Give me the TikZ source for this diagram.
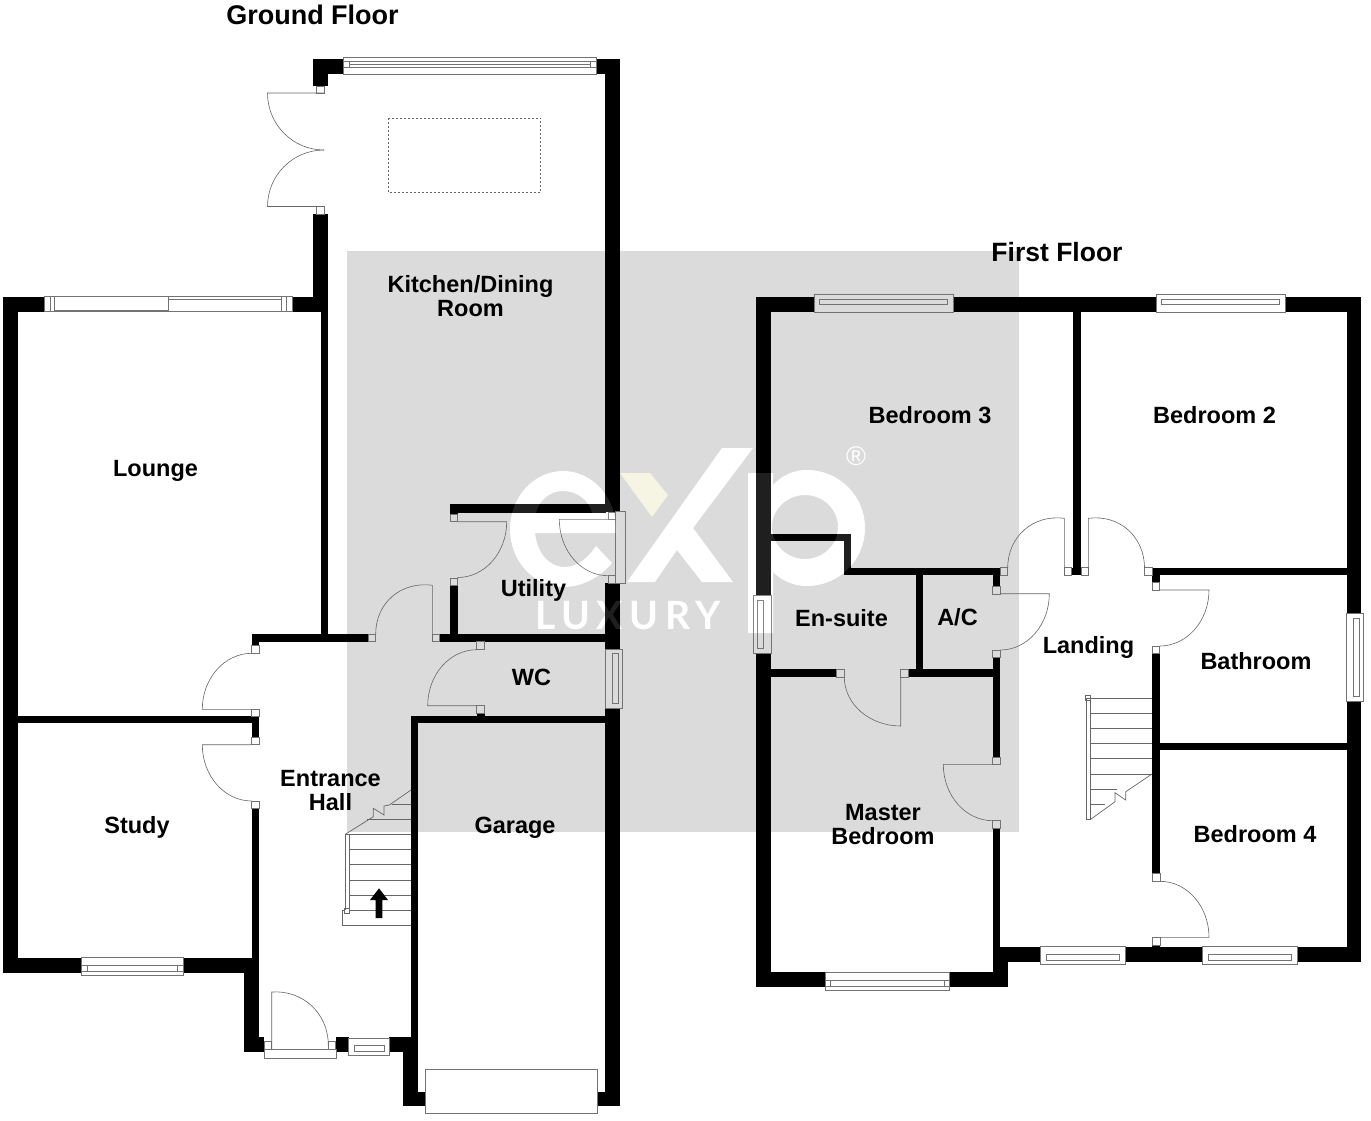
\documentclass[tikz,border=0pt]{standalone}
\usepackage{fontspec}
\setmainfont{Liberation Sans}
\newfontfamily\logofont[LetterSpace=17]{Lato}
\usetikzlibrary{calc}
\tikzset{
  wallfill/.style={fill=black,draw=none},
  jambline/.style={draw=black!55,line width=0.6pt},
  doorline/.style={draw=black!60,line width=0.6pt},
  winline/.style={draw=black!55,line width=0.65pt},
  stairline/.style={draw=black!60,line width=0.7pt},
  lab/.style={font=\fontsize{23.5}{24}\bfseries\selectfont,align=center,inner sep=0pt,text=black},
  ttl/.style={font=\fontsize{27}{30}\bfseries\selectfont,inner sep=0pt,text=black},
  logotext/.style={inner sep=0pt,text=white}
}
\newcommand\wall[2]{\path[wallfill] (#1) rectangle (#2);}
\newcommand\jamb[2]{\draw[jambline] (#1) rectangle (#2);}
\newcommand\door[3]{\draw[doorline] (#1) -- (#2) .. controls ($(#2)+0.5523*(#3)-0.5523*(#1)$) and ($(#3)+0.5523*(#2)-0.5523*(#1)$) .. (#3);}
\newcommand\win[4]{\draw[winline] (#1) rectangle (#2); \draw[winline] (#3) rectangle (#4);}
\newcommand\logoshape{
  (616,529) .. controls (616,497) and (592,471) .. (563,471)
  .. controls (534,471) and (510,497) .. (510,529)
  .. controls (510,561) and (534,587) .. (563,587)
  .. controls (583,587) and (600,577) .. (612,563)
  -- (596,546) .. controls (588,558) and (577,567) .. (565,567)
  .. controls (548,567) and (537,552) .. (535,533) -- (616,533) -- cycle
  (536,513) .. controls (539,500) and (550,491) .. (563,491)
  .. controls (577,491) and (589,500) .. (592,513) -- cycle
  (722,448) -- (753,448) -- (693,528) -- (733,582) -- (702,582) -- (677,550) -- (655,582) -- (627,582) -- cycle
  (748,473) -- (773,473) -- (773,485) .. controls (782,475) and (794,470) .. (807,470)
  .. controls (839,470) and (865,496) .. (865,528)
  .. controls (865,560) and (839,586) .. (807,586)
  .. controls (794,586) and (782,581) .. (773,572) -- (773,633) -- (748,633) -- cycle
  (805,495) .. controls (787,495) and (772,509) .. (772,527)
  .. controls (772,545) and (787,559) .. (805,559)
  .. controls (823,559) and (838,545) .. (838,527)
  .. controls (838,509) and (823,495) .. (805,495) -- cycle
}
\begin{document}
\begin{tikzpicture}[x=1pt,y=-1pt]
\useasboundingbox (0,0) rectangle (1371,1120);
\fill[white] (0,0) rectangle (1371,1120);
% watermark panel
\fill[black!14] (346.7,250.7) rectangle (1019,832);
\fill[white,even odd rule] \logoshape;
\fill[black!3!yellow!8!white!96!black] (620,473) -- (650,473) -- (668,495) -- (652,517) -- cycle;
\node[logotext,font=\fontsize{39}{39}\logofont\bfseries] (luxury) at (628,616) {LUXURY};
\node[logotext,font=\fontsize{27}{27}\selectfont] (regmark) at (856,456.5) {®};

% ---------- GROUND FLOOR walls
\wall{313,59}{343.5,74.3}\wall{313,74}{328,86}
\wall{313,214}{328,311.7}\wall{292.7,296.7}{328,311.7}\wall{320.7,311}{328,636}
\wall{596.7,59}{619.7,74.3}\wall{604.5,59}{619.7,512}
\wall{449.7,504.3}{606,512.7}\wall{449.7,512}{457.7,514}
\wall{450,585.7}{457.7,636}
\wall{605,583.3}{619.7,649.3}\wall{605,708.3}{619.7,1106}\wall{597.7,1091.7}{619.7,1106}
\wall{251.7,634}{368.3,641.7}\wall{439.7,634}{606,641.7}
\wall{251.7,641}{259.3,645.3}\wall{251.7,716.7}{259.3,737.3}\wall{251.7,808.3}{259.3,1052.3}
\wall{244,958.3}{252,1052.3}\wall{244,1037.3}{264,1052.3}
\wall{335.7,1037.3}{348.7,1052.3}\wall{389,1037.3}{411,1052.3}
\wall{403.3,1037.3}{418.3,1106}\wall{411,715.7}{418.3,1040}\wall{403.3,1091.7}{425,1106}
\wall{411,715.7}{606,723.3}\wall{476.7,713.3}{484.7,716}
\wall{3.3,296.7}{44.3,311.7}\wall{3.3,296.7}{18.3,973.3}\wall{18,716}{252,723.3}
\wall{3.3,958.3}{81.7,973.3}\wall{183.3,958.3}{244.5,973.3}

% ---------- FIRST FLOOR walls
\wall{756,296.7}{771,595}\wall{756,653.3}{771,987.3}
\wall{756,296.7}{814,312}\wall{953,296.7}{1156,312}\wall{1285,296.7}{1361.3,312}
\wall{1346.7,296.7}{1361.3,613.7}\wall{1346.7,701.7}{1361.3,962.3}
\wall{1073,312}{1081,570}\wall{1071.7,567.7}{1081,575.3}
\wall{771,534}{851,541.3}\wall{844,534}{851,575.3}\wall{844,567.7}{1000.3,575.3}
\wall{915.7,575}{923.3,677}\wall{771,669.3}{836.7,677}\wall{908,669.3}{992.7,677}
\wall{992.7,575}{1000.3,586}\wall{992.7,657.7}{1000.3,757}\wall{992.7,828.3}{1000.3,987.3}
\wall{1000,946.7}{1040.3,962.3}\wall{1125.3,946.7}{1202.3,962.3}\wall{1297.3,946.7}{1361.3,962.3}
\wall{992.7,962}{1007.7,987.3}\wall{756,971.7}{825,987.3}\wall{949.3,971.7}{1007.7,987.3}
\wall{1152,567.7}{1347,575.3}\wall{1152,575}{1159.7,582.7}\wall{1152,653.7}{1159.7,873.7}
\wall{1159,742.7}{1347,750.3}\wall{1152.3,945}{1160,947}

% ---------- door jambs
\jamb{316,86}{324.5,93}\jamb{316,206.5}{324.5,214}
\jamb{450,514}{457.7,521.7}\jamb{450,578}{457.7,585.7}
\jamb{368.3,634}{375.7,641.7}\jamb{432.3,634}{439.7,641.7}
\jamb{476.7,641.7}{484.7,649.7}\jamb{476.7,705.7}{484.7,713.3}
\jamb{251.7,645.3}{259.3,653.3}\jamb{251.7,709.3}{259.3,716.7}
\jamb{251.7,737.3}{259.3,744.7}\jamb{251.7,801}{259.3,808.3}
\jamb{264,1041.7}{271.7,1049}\jamb{328.3,1041.7}{335.7,1049}
\jamb{608,512.7}{615.7,519.3}\jamb{608,575.7}{615.7,583.3}
\jamb{836.7,669.3}{844.3,677}\jamb{900.7,669.3}{908,677}
\jamb{992.7,586}{1000.3,594}\jamb{992.7,650}{1000.3,657.7}
\jamb{992.7,757}{1000.3,764.3}\jamb{992.7,820.7}{1000.3,828.3}
\jamb{1000.3,567.7}{1007.7,575.3}\jamb{1064.3,567.7}{1071.7,575.3}
\jamb{1081,567.7}{1088.3,575.3}\jamb{1144.3,567.7}{1152,575.3}
\jamb{1152,582.7}{1159.7,590}\jamb{1152,646}{1159.7,653.7}
\jamb{1152.3,873.7}{1160,881.3}\jamb{1152.3,937.3}{1160,945}

% ---------- doors
\door{324,93}{267.5,93}{324,150}
\door{324,206.5}{267.5,206.5}{324,150}
\door{457.7,521.7}{506.7,521.7}{457.7,577.5}
\door{608,519.3}{559.3,519.3}{608,575.7}
\door{432.3,641.7}{432.3,585.3}{375.7,634}
\door{476.7,705.7}{427.7,705.7}{476.7,649.7}
\door{251.7,709.3}{202.3,709.3}{251.7,653.3}
\door{251.7,744.7}{202.3,744.7}{251.7,801}
\door{271.7,1049}{271.7,992}{328.3,1045}
\door{900.7,677}{900.7,726}{844.3,677}
\door{1000.3,593.7}{1049.3,593.7}{1000.3,650}
\door{992.7,764.3}{943.3,764.3}{992.7,820.7}
\door{1064.3,575.3}{1064.3,518.3}{1007.7,568}
\door{1088.3,575.3}{1088.3,518.3}{1144.5,568}
\door{1159.7,590}{1209,590}{1159.7,646}
\door{1160,937.3}{1209,937.3}{1160,881.3}

% ---------- windows
\win{343.5,57.3}{596.7,74.3}{349.3,61.7}{590,67.3}
\draw[winline] (343.5,61.7) -- (349.3,61.7) (343.5,67.3) -- (349.3,67.3) (590,61.7) -- (596.7,61.7) (590,67.3) -- (596.7,67.3) (349.3,64.3) -- (590,64.3);
% lounge sliding window
\draw[winline] (44.3,296.7) rectangle (292.7,311.7);
\draw[winline] (50,296.7) -- (50,311.7) (54.3,296.7) -- (54.3,311.7) (54.3,310) -- (168.3,310) (168.3,296.7) -- (168.3,311.7) (168.3,299.3) -- (281.7,299.3) (281.7,296.7) -- (281.7,311.7) (286.7,296.7) -- (286.7,311.7);
\win{81.7,957.7}{183.3,975.7}{87.3,965}{177.3,971.7}
\draw[winline] (81.7,965) -- (87.3,965) (81.7,971.7) -- (87.3,971.7) (177.3,965) -- (183.3,965) (177.3,971.7) -- (183.3,971.7);
\win{348.7,1038.3}{389,1055.3}{354.3,1045.7}{384,1051}
\draw[winline] (264,1049) rectangle (336,1058.3);
\win{605,649.3}{622.7,708.3}{612.7,653}{618.3,703}
\draw[winline] (615.7,511.7) rectangle (625.7,583.3);
\draw[winline] (425,1069.3) rectangle (597.7,1113.7);
\win{753.3,595}{771,653.3}{757.3,600}{763.3,648}
\win{1346.7,613.7}{1363.3,701.7}{1353.3,618.3}{1359,696.7}
\win{814,294.5}{953,312}{819,299}{947,304}
\win{1156,294.5}{1285,312}{1161,299}{1279,304}
\win{1040.3,946.7}{1125.3,964.3}{1046,954.7}{1119.3,960.7}
\win{1202.3,946.7}{1297.3,964.3}{1208,954.7}{1291.3,960.7}
\win{825,972.7}{949.3,990.7}{830.3,980}{944,986.7}
\draw[winline] (825,980) -- (830.3,980) (825,986.7) -- (830.3,986.7) (944,980) -- (949.3,980) (944,986.7) -- (949.3,986.7);

% ---------- skylight
\draw[black!60,line width=0.6pt,dash pattern=on 2.2pt off 1.8pt] (388.3,118) rectangle (540.3,192.7);

% ---------- stairs ground floor
\foreach \yy in {834.3,849.3,864.7,880,895,910.3,925.3} {\draw[stairline] (349.3,\yy) -- (411,\yy);}
\draw[stairline] (366.7,819.3) -- (411,819.3) (391.7,804) -- (411,804);
\draw[stairline] (342.3,910.3) -- (342.3,925.3) -- (349.3,925.3);
\draw[stairline] (345.3,834.3) -- (349.3,834.3) -- (349.3,910.3) (345.3,834.3) -- (345.3,910.3) (342.3,910.3) -- (345.3,910.3);
\draw[stairline] (344.3,908) rectangle (349.3,913);
\draw[stairline] (345.3,834.3) -- (373.3,816.7) -- (373.3,808.3) -- (384,815) -- (384,806) -- (389.3,805) -- (411,790);
\fill[black] (375.7,918) -- (382.3,918) -- (382.3,900) -- (388,900) -- (379,888.3) -- (370,900) -- (375.7,900) -- cycle;

% ---------- stairs first floor
\foreach \yy in {698.3,713.3,728.7,743.7,758.7,774} {\draw[stairline] (1090.7,\yy) -- (1152,\yy);}
\draw[stairline] (1090.7,789) -- (1117,789) (1090.7,804) -- (1105,804);
\draw[stairline] (1086.7,698.3) rectangle (1090.7,819.3);
\draw[stairline] (1085.3,695) rectangle (1090.7,700);
\draw[stairline] (1090.7,819.3) -- (1115,801.7) -- (1115,792.7) -- (1125.7,800) -- (1125.7,791.7) -- (1152,774);

% ---------- logo veil over the plan
\fill[white,opacity=0.12,even odd rule] \logoshape;
\node[logotext,opacity=0.12,font=\fontsize{39}{39}\logofont\bfseries] (luxuryveil) at (628,616) {LUXURY};

% ---------- labels
\node[ttl] (tground) at (312.5,14.5) {Ground Floor};
\node[ttl,font=\fontsize{26.5}{30}\bfseries\selectfont] (tfirst) at (1057,252) {First Floor};
\node[lab] (kitchen) at (470.5,296.5) {Kitchen/Dining\\Room};
\node[lab] (lounge) at (155.5,471) {Lounge};
\node[lab] (study) at (137,827.5) {Study};
\node[lab] (hall) at (330.5,791) {Entrance\\Hall};
\node[lab] (utility) at (533.5,590) {Utility};
\node[lab] (wc) at (531.5,677) {WC};
\node[lab] (garage) at (515,828) {Garage};
\node[lab] (bed3) at (930,415.5) {Bedroom 3};
\node[lab] (bed2) at (1214.5,415.5) {Bedroom 2};
\node[lab] (ensuite) at (841.5,618) {En-suite};
\node[lab] (ac) at (957.5,617) {A/C};
\node[lab] (landing) at (1088.5,647) {Landing};
\node[lab] (bath) at (1256,661) {Bathroom};
\node[lab] (master) at (883,825) {Master\\Bedroom};
\node[lab] (bed4) at (1255,834) {Bedroom 4};
\end{tikzpicture}
\end{document}
